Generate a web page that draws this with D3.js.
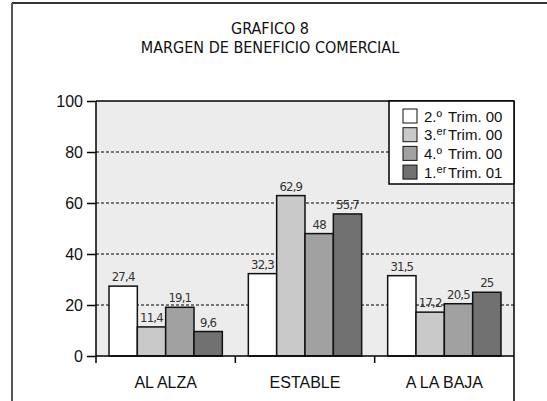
<!DOCTYPE html>
<html>
<head>
<meta charset="utf-8">
<script src="https://cdn.jsdelivr.net/npm/d3@7"></script>
<style>
  body { margin: 0; background: #fff; }
  text { font-family: "Liberation Sans", Arial, sans-serif; fill: #111; }
  .cond { font-family: "DejaVu Sans Condensed", "Liberation Sans Narrow", sans-serif; }
</style>
</head>
<body>
<script>
// data
var categories = ['AL ALZA', 'ESTABLE', 'A LA BAJA']
var seriesNum = ['2.', '3.', '4.', '1.']
var seriesSup = ['º', 'er', 'º', 'er']
var seriesTrim = ['Trim. 00', 'Trim. 00', 'Trim. 00', 'Trim. 01']
var trim2_00 = [27.4, 32.3, 31.5]
var trim3_00 = [11.4, 62.9, 17.2]
var trim4_00 = [19.1, 48, 20.5]
var trim1_01 = [9.6, 55.7, 25]
var yTicks = [0, 20, 40, 60, 80, 100]

var values = [trim2_00, trim3_00, trim4_00, trim1_01]
var colors = ['#ffffff', '#c9c9c9', '#a1a1a1', '#717171']

var width = 547,
    height = 401
var margin = {top: 101, right: 33, bottom: 45, left: 96}

var svg = d3.select('body').append('svg')
    .attr('width', width)
    .attr('height', height)

// frame
svg.append('line')
    .attr('x1', 12).attr('x2', width).attr('y1', 3).attr('y2', 3)
    .attr('stroke', '#333').attr('stroke-width', 2)
svg.append('line')
    .attr('x1', 12).attr('x2', 12).attr('y1', 3).attr('y2', height)
    .attr('stroke', '#555').attr('stroke-width', 2)

// title
svg.append('text')
    .attr('class', 'cond')
    .attr('x', 270).attr('y', 34)
    .attr('text-anchor', 'middle')
    .style('font-size', '16px')
    .text('GRAFICO 8')
svg.append('text')
    .attr('class', 'cond')
    .attr('x', 270).attr('y', 53)
    .attr('text-anchor', 'middle')
    .style('font-size', '16px')
    .text('MARGEN DE BENEFICIO COMERCIAL')

var x0 = d3.scaleBand()
    .domain(categories)
    .range([margin.left, width - margin.right])

var x1 = d3.scaleBand()
    .domain(d3.range(values.length))
    .range([13, x0.bandwidth() - 13])

var y = d3.scaleLinear()
    .domain([0, 100])
    .range([height - margin.bottom, margin.top])

var chart = svg.append('g')

// plot background
chart.append('rect')
    .attr('x', margin.left)
    .attr('y', y(100))
    .attr('width', x0.range()[1] - margin.left)
    .attr('height', y(0) - y(100))
    .attr('fill', '#ececec')

// dashed grid
chart.selectAll('.grid')
    .data(yTicks.filter(d => d > 0 && d < 100)).enter()
    .append('line')
    .attr('class', 'grid')
    .attr('x1', margin.left).attr('x2', x0.range()[1])
    .attr('y1', d => y(d)).attr('y2', d => y(d))
    .attr('stroke', '#000')
    .attr('stroke-width', 1)
    .attr('stroke-dasharray', '3,2')

// bars
var groups = chart.selectAll('.grp')
    .data(categories).enter()
    .append('g')
    .attr('class', 'grp')
    .attr('transform', d => `translate(${x0(d)},0)`)

groups.selectAll('rect')
    .data((d, i) => values.map((s, j) => ({s: j, v: s[i]}))).enter()
    .append('rect')
    .attr('x', d => x1(d.s))
    .attr('y', d => y(d.v))
    .attr('width', x1.bandwidth())
    .attr('height', d => y(0) - y(d.v))
    .attr('fill', d => colors[d.s])
    .attr('stroke', '#111')
    .attr('stroke-width', 1.5)

groups.selectAll('.val')
    .data((d, i) => values.map((s, j) => ({s: j, v: s[i]}))).enter()
    .append('text')
    .attr('class', 'val cond')
    .attr('x', d => x1(d.s) + x1.bandwidth() / 2)
    .attr('y', d => y(d.v) - 5)
    .attr('text-anchor', 'middle')
    .style('font-size', '13px')
    .style('letter-spacing', '-0.8px')
    .style('fill', '#333')
    .text(d => String(d.v).replace('.', ','))

// border top/right
chart.append('line')
    .attr('x1', margin.left).attr('x2', x0.range()[1])
    .attr('y1', y(100)).attr('y2', y(100))
    .attr('stroke', '#000').attr('stroke-width', 1.5)
chart.append('line')
    .attr('x1', x0.range()[1]).attr('x2', x0.range()[1])
    .attr('y1', y(100)).attr('y2', height)
    .attr('stroke', '#000').attr('stroke-width', 1.5)

// y axis
var yAxis = d3.axisLeft(y)
    .tickValues(yTicks)
    .tickSize(9)
    .tickPadding(4)
var gy = chart.append('g')
    .attr('transform', `translate(${margin.left},0)`)
    .call(yAxis)
gy.select('.domain').attr('stroke', '#000').attr('stroke-width', 1.5)
    .attr('d', `M0,${y(100)}V${y(0) + 7}`)
gy.selectAll('.tick line').attr('stroke', '#000').attr('stroke-width', 1.5)
gy.selectAll('.tick text')
    .style('font-size', '16px')
    .style('font-family', '"Liberation Sans", Arial, sans-serif')
    .attr('fill', '#111')

// x axis
chart.append('line')
    .attr('x1', margin.left).attr('x2', x0.range()[1])
    .attr('y1', y(0)).attr('y2', y(0))
    .attr('stroke', '#000').attr('stroke-width', 1.5)
chart.selectAll('.sep')
    .data(categories.slice(1)).enter()
    .append('line')
    .attr('class', 'sep')
    .attr('x1', d => x0(d)).attr('x2', d => x0(d))
    .attr('y1', y(0)).attr('y2', y(0) + 7)
    .attr('stroke', '#000').attr('stroke-width', 1.5)
chart.selectAll('.cat')
    .data(categories).enter()
    .append('text')
    .attr('class', 'cat')
    .attr('x', d => x0(d) + x0.bandwidth() / 2)
    .attr('y', 388)
    .attr('text-anchor', 'middle')
    .style('font-size', '16px')
    .text(d => d)

// legend
var legend = svg.append('g')
legend.append('rect')
    .attr('x', 389).attr('y', y(100))
    .attr('width', x0.range()[1] - 389)
    .attr('height', 83)
    .attr('fill', '#fff')
    .attr('stroke', '#000')
    .attr('stroke-width', 1.5)

var item = legend.selectAll('.item')
    .data(seriesNum).enter()
    .append('g')
    .attr('class', 'item')
    .attr('transform', (d, i) => `translate(403,${109 + i * 18.7})`)

item.append('rect')
    .attr('width', 14).attr('height', 14)
    .attr('fill', (d, i) => colors[i])
    .attr('stroke', '#111')
    .attr('stroke-width', 1)

var lt = item.append('text')
    .attr('x', 21).attr('y', 12.5)
    .style('font-size', '15px')
lt.append('tspan').text(d => d)
lt.append('tspan')
    .attr('dy', (d, i) => seriesSup[i] === 'er' ? -5 : 0)
    .style('font-size', (d, i) => seriesSup[i] === 'er' ? '11px' : '15px')
    .text((d, i) => seriesSup[i])
lt.append('tspan')
    .attr('x', 45)
    .attr('y', 12.5)
    .text((d, i) => seriesTrim[i])
</script>
</body>
</html>
